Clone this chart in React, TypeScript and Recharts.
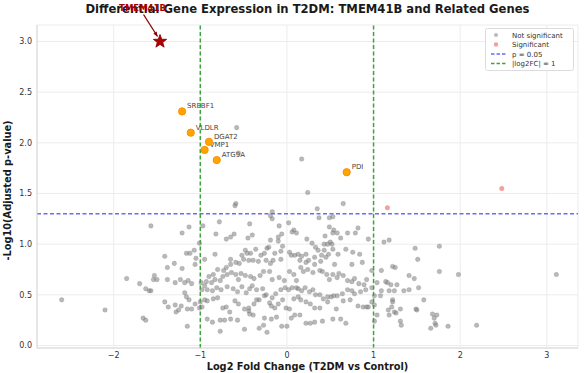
import React from 'react';
import { ScatterChart, Scatter, XAxis, YAxis, CartesianGrid, ReferenceLine } from 'recharts';

const titleText = 'Differential Gene Expression in T2DM: TMEM41B and Related Genes';
const xLabel = 'Log2 Fold Change (T2DM vs Control)';
const yLabel = '-Log10(Adjusted p-value)';

const xTicks = [-2, -1, 0, 1, 2, 3];
const yTicks = [0, 0.5, 1, 1.5, 2, 2.5, 3];
const pThreshold = 1.301;
const fcThreshold = 1;

const highlightGenes = ['SREBF1', 'VLDLR', 'DGAT2', 'VMP1', 'ATG9A', 'PDI'];
const highlightX = [-1.21, -1.11, -0.9, -0.95, -0.81, 0.69];
const highlightY = [2.31, 2.1, 2.01, 1.93, 1.83, 1.71];

const targetGene = 'TMEM41B';
const targetX = -1.465;
const targetY = 3.0;

const significantX = [1.16, 2.48];
const significantY = [1.36, 1.55];

const notSignificant: [number, number][] = [
  [-0.58, 2.15], [-0.56, 1.9], [0.17, 1.84], [0.24, 1.51],
  [-0.59, 1.4], [-0.6, 1.38], [-0.17, 1.32], [0.35, 1.35], [0.65, 1.4],
  [-0.97, 1.18], [-0.78, 1.22], [-0.43, 1.2], [-0.19, 1.28], [-0.17, 1.25], [-0.09, 1.18], [0.02, 1.21],
  [0.08, 1.14], [0.11, 1.11], [0.37, 1.26], [0.49, 1.26], [0.53, 1.27], [0.49, 1.17], [0.54, 1.14],
  [0.58, 1.11], [0.82, 1.16], [0.79, 1.11], [0.7, 1.11], [0.94, 1.05], [-0.82, 1.1], [-0.7, 1.05],
  [-0.65, 1.07], [-0.61, 1.1], [-0.45, 1.06], [-0.4, 1.09], [-0.19, 1.04], [-0.1, 1.07], [-0.1, 1.03],
  [-0.06, 1.1], [0.06, 1.12], [0.23, 1.05], [0.29, 1.01], [0.33, 0.97], [0.44, 1.08], [0.43, 1.0],
  [0.47, 1.0], [0.5, 1.02], [0.52, 1.0], [0.53, 1.11], [0.62, 1.06],
  [-0.95, 0.85], [-0.83, 0.9], [-0.65, 0.85], [-0.52, 0.89], [-0.48, 0.94], [-0.46, 0.91], [-0.42, 0.91],
  [-0.36, 0.95], [-0.3, 0.89], [-0.23, 0.96], [-0.21, 0.97], [-0.26, 0.91], [-0.14, 0.91], [-0.07, 0.93],
  [-0.05, 0.98], [0.03, 0.92], [0.09, 0.89], [0.13, 0.9], [0.17, 0.88], [0.22, 0.9], [0.25, 0.84],
  [0.32, 0.87], [0.36, 0.94], [0.4, 0.89], [0.43, 0.94], [0.48, 0.9], [0.53, 0.95], [0.59, 0.9],
  [0.68, 0.95], [0.76, 0.92], [0.84, 0.9], [0.87, 0.82], [0.75, 0.8], [0.55, 0.8], [0.45, 0.87],
  [0.39, 0.83], [0.32, 0.8], [0.22, 0.82], [0.15, 0.84], [0.05, 0.89], [-0.07, 0.85], [-0.16, 0.84],
  [-0.19, 0.81], [-0.24, 0.84], [-0.33, 0.83], [-0.39, 0.84], [-0.44, 0.84], [-0.5, 0.85], [-0.55, 0.81],
  [-0.59, 0.82], [-0.65, 0.8], [-0.7, 0.77], [-0.73, 0.74], [-0.8, 0.75], [-0.85, 0.7], [-0.9, 0.68],
  [-0.93, 0.63], [-0.99, 0.62], [-0.95, 0.59], [-0.98, 0.55], [-0.92, 0.55], [-0.87, 0.62], [-0.83, 0.65],
  [-0.77, 0.64], [-0.74, 0.68], [-0.69, 0.7], [-0.64, 0.72], [-0.59, 0.7], [-0.56, 0.65], [-0.53, 0.71],
  [-0.48, 0.69], [-0.42, 0.68], [-0.38, 0.66], [-0.31, 0.69], [-0.27, 0.73], [-0.2, 0.73], [-0.17, 0.65],
  [-0.09, 0.67], [-0.03, 0.64], [0.03, 0.73], [0.08, 0.7], [0.11, 0.64], [0.16, 0.77], [0.19, 0.73],
  [0.24, 0.75], [0.3, 0.72], [0.38, 0.74], [0.41, 0.73], [0.46, 0.7], [0.49, 0.65], [0.53, 0.7],
  [0.58, 0.67], [0.6, 0.71], [0.65, 0.69], [0.7, 0.64], [0.75, 0.63], [0.78, 0.66], [0.83, 0.61],
  [0.89, 0.6], [0.91, 0.55], [0.98, 0.74], [0.92, 0.65],
  [-0.86, 0.54], [-0.81, 0.57], [-0.76, 0.55], [-0.69, 0.58], [-0.62, 0.56], [-0.57, 0.53], [-0.52, 0.58],
  [-0.47, 0.52], [-0.43, 0.56], [-0.4, 0.59], [-0.35, 0.55], [-0.28, 0.56], [-0.24, 0.5], [-0.17, 0.47],
  [-0.13, 0.51], [-0.07, 0.55], [-0.02, 0.57], [0.02, 0.55], [0.06, 0.57], [0.11, 0.57], [0.13, 0.56],
  [0.17, 0.54], [0.21, 0.57], [0.26, 0.53], [0.3, 0.55], [0.33, 0.5], [0.38, 0.5], [0.42, 0.46],
  [0.47, 0.48], [0.51, 0.48], [0.54, 0.49], [0.58, 0.49], [0.64, 0.51], [0.7, 0.55], [0.75, 0.54],
  [0.78, 0.51], [0.85, 0.53], [0.98, 0.57], [0.98, 0.43], [0.92, 0.38], [-0.92, 0.44], [-0.95, 0.45],
  [-0.98, 0.38], [-0.85, 0.46], [-0.8, 0.47], [-0.74, 0.37], [-0.7, 0.38], [-0.66, 0.33], [-0.6, 0.44],
  [-0.56, 0.41], [-0.49, 0.36], [-0.44, 0.37], [-0.38, 0.41], [-0.35, 0.45], [-0.32, 0.45], [-0.26, 0.49],
  [-0.2, 0.42], [-0.18, 0.39], [-0.14, 0.37], [-0.1, 0.41], [-0.05, 0.45], [-0.01, 0.37], [0.03, 0.36],
  [0.08, 0.46], [0.13, 0.48], [0.16, 0.45], [0.22, 0.43], [0.27, 0.41], [0.32, 0.37], [0.38, 0.37],
  [0.47, 0.43], [0.57, 0.36], [0.65, 0.44], [0.73, 0.45], [0.82, 0.39], [0.88, 0.38], [0.94, 0.38],
  [-0.92, 0.26], [-0.86, 0.23], [-0.77, 0.25], [-0.72, 0.25], [-0.65, 0.26], [-0.77, 0.14], [-0.57, 0.25],
  [-0.49, 0.16], [-0.44, 0.34], [-0.39, 0.3], [-0.32, 0.17], [-0.27, 0.2], [-0.23, 0.13], [-0.18, 0.26],
  [-0.12, 0.28], [-0.06, 0.19], [0.0, 0.19], [0.05, 0.27], [0.09, 0.3], [0.15, 0.3], [0.22, 0.22],
  [0.27, 0.22], [0.32, 0.23], [0.41, 0.24], [0.53, 0.26], [0.62, 0.26], [0.68, 0.22], [-0.26, 0.27],
  [-0.43, 0.31],
  [-1.57, 1.18], [-1.13, 1.17], [-1.21, 1.11], [-1.01, 1.01], [-1.07, 0.94], [-1.16, 0.91], [-1.12, 0.91],
  [-1.41, 0.88], [-1.05, 0.86], [-1.3, 0.81], [-1.06, 0.8], [-1.38, 0.77], [-1.21, 0.76], [-1.85, 0.66],
  [-1.53, 0.69], [-1.54, 0.65], [-1.5, 0.65], [-1.38, 0.65], [-1.29, 0.62], [-1.23, 0.65], [-1.18, 0.62],
  [-1.14, 0.64], [-1.1, 0.61], [-1.7, 0.61], [-1.63, 0.56], [-1.59, 0.54], [-1.57, 0.54], [-1.18, 0.52],
  [-1.16, 0.48], [-1.13, 0.45], [-2.6, 0.45], [-1.0, 0.43], [-1.41, 0.43], [-1.37, 0.38], [-1.29, 0.4],
  [-1.22, 0.39], [-1.06, 0.41], [-1.01, 0.37], [-2.1, 0.35], [-1.28, 0.33], [-1.25, 0.35], [-1.15, 0.36],
  [-1.1, 0.36], [-1.66, 0.27], [-1.63, 0.25], [-1.15, 0.19],
  [1.12, 1.02], [1.18, 1.04], [1.48, 0.96], [1.76, 0.98], [1.51, 0.85], [1.09, 0.74], [1.22, 0.78],
  [1.25, 0.77], [1.76, 0.73], [1.98, 0.7], [3.11, 0.7], [1.41, 0.69], [1.47, 0.66], [1.04, 0.62],
  [1.14, 0.63], [1.16, 0.62], [1.2, 0.6], [1.27, 0.6], [1.52, 0.57], [1.09, 0.54], [1.18, 0.54],
  [1.24, 0.54], [1.35, 0.54], [1.41, 0.55], [1.01, 0.49], [1.08, 0.49], [1.22, 0.45], [1.22, 0.43],
  [1.58, 0.45], [1.01, 0.4], [1.17, 0.35], [1.21, 0.38], [1.24, 0.33], [1.26, 0.32], [1.31, 0.36],
  [1.18, 0.3], [1.49, 0.36], [1.5, 0.35], [1.04, 0.3], [1.68, 0.31], [1.73, 0.3], [1.7, 0.27],
  [1.01, 0.24], [1.31, 0.24], [1.32, 0.2], [1.71, 0.22], [1.72, 0.2], [1.66, 0.17], [1.86, 0.19],
  [2.19, 0.2],
];

const grayData = notSignificant.map(([x, y]) => ({ x, y }));
const sigData = significantX.map((x, i) => ({ x, y: significantY[i] }));
const highlightData = highlightGenes.map((gene, i) => ({ gene, x: highlightX[i], y: highlightY[i] }));
const targetData = [{ gene: targetGene, x: targetX, y: targetY }];

const FONT = '"DejaVu Sans", Verdana, sans-serif';

const GrayDot = (p: any) => (
  <circle cx={p.cx} cy={p.cy} r={2.3} fill="#808080" fillOpacity={0.55} stroke="#707070" strokeOpacity={0.4} strokeWidth={0.5} />
);
const SigDot = (p: any) => (
  <circle cx={p.cx} cy={p.cy} r={2.5} fill="#f08080" fillOpacity={0.75} />
);
const OrangeDot = (p: any) => (
  <circle cx={p.cx} cy={p.cy} r={3.6} fill="#ffa500" stroke="#ff8c00" strokeWidth={1} />
);
const GeneLabel = (p: any) => (
  <text x={p.cx + 5} y={p.cy - 3} fontSize={7} fill="#444" fontFamily={FONT}>{p.payload.gene}</text>
);
const StarShape = (p: any) => {
  const { cx, cy } = p;
  const pts: string[] = [];
  for (let i = 0; i < 10; i++) {
    const r = i % 2 === 0 ? 7 : 2.9;
    const a = -Math.PI / 2 + (i * Math.PI) / 5;
    pts.push(`${cx + r * Math.cos(a)},${cy + r * Math.sin(a)}`);
  }
  const x1 = cx - 16.5, y1 = cy - 27;
  const x2 = cx - 2.5, y2 = cy - 5;
  const ang = Math.atan2(y2 - y1, x2 - x1);
  const ah = 5;
  const hx1 = x2 - ah * Math.cos(ang - 0.4), hy1 = y2 - ah * Math.sin(ang - 0.4);
  const hx2 = x2 - ah * Math.cos(ang + 0.4), hy2 = y2 - ah * Math.sin(ang + 0.4);
  return (
    <g>
      <polygon points={pts.join(' ')} fill="#b00000" stroke="#7a0000" strokeWidth={0.8} />
      <line x1={x1} y1={y1} x2={x2} y2={y2} stroke="#8b0000" strokeWidth={1.3} />
      <polygon points={`${x2},${y2} ${hx1},${hy1} ${hx2},${hy2}`} fill="#8b0000" />
      <text x={cx - 17.5} y={cy - 30.5} textAnchor="middle" fontSize={8.5} fontWeight="bold" fill="#a80000" fontFamily={FONT}>{p.payload.gene}</text>
    </g>
  );
};

const fmtX = (v: number) => (v < 0 ? '\u2212' + Math.abs(v) : String(v));
const fmtY = (v: number) => v.toFixed(1);

export default function App() {
  return (
    <div style={{ position: 'absolute', left: 0, top: 0, width: 584, height: 373, background: '#fff', fontFamily: FONT }}>
      <div style={{ position: 'absolute', left: 0, top: 0, width: 615, textAlign: 'center', fontSize: 11.6, fontWeight: 'bold', color: '#1a1a1a', lineHeight: '13px', paddingTop: 3 }}>
        {titleText}
      </div>
      <div style={{ position: 'absolute', left: 0, top: 0 }}>
        <ScatterChart width={584} height={373} margin={{ top: 25, right: 6, bottom: 0, left: 0 }}>
          <CartesianGrid stroke="#ececec" strokeWidth={1} />
          <XAxis
            type="number"
            dataKey="x"
            domain={[-2.885, 3.36]}
            ticks={xTicks}
            tickFormatter={fmtX}
            height={25}
            tickLine={false}
            tickSize={2}
            tickMargin={2}
            axisLine={{ stroke: '#d8d8d8' }}
            tick={{ fontSize: 8, fill: '#333', fontFamily: FONT }}
            label={() => (
              <text x={307.5} y={369.5} textAnchor="middle" fontSize={9.8} fontWeight="bold" fill="#1a1a1a" fontFamily={FONT}>{xLabel}</text>
            )}
          />
          <YAxis
            type="number"
            dataKey="y"
            domain={[-0.025, 3.163]}
            ticks={yTicks}
            tickFormatter={fmtY}
            width={37}
            tickLine={false}
            tickSize={3}
            tickMargin={2}
            axisLine={{ stroke: '#d8d8d8' }}
            tick={{ fontSize: 8, fill: '#333', fontFamily: FONT }}
            label={() => (
              <text x={0} y={0} transform="translate(11,190.5) rotate(-90)" textAnchor="middle" fontSize={9.8} fontWeight="bold" fill="#1a1a1a" fontFamily={FONT}>{yLabel}</text>
            )}
          />
          <Scatter data={highlightData} shape={GeneLabel} isAnimationActive={false} />
          <Scatter data={grayData} shape={GrayDot} isAnimationActive={false} />
          <Scatter data={sigData} shape={SigDot} isAnimationActive={false} />
          <Scatter data={highlightData} shape={OrangeDot} isAnimationActive={false} />
          <ReferenceLine y={pThreshold} stroke="#6a6aff" strokeWidth={1.5} strokeDasharray="4 2.5" />
          <ReferenceLine x={-fcThreshold} stroke="#3ea53e" strokeWidth={1.5} strokeDasharray="4 2.5" />
          <ReferenceLine x={fcThreshold} stroke="#3ea53e" strokeWidth={1.5} strokeDasharray="4 2.5" />
          <Scatter data={targetData} shape={StarShape} isAnimationActive={false} />
        </ScatterChart>
      </div>
      <svg width={90} height={44} style={{ position: 'absolute', left: 485, top: 28 }}>
        <rect x={0.5} y={0.5} width={88} height={42} rx={2} fill="#fff" fillOpacity={0.85} stroke="#dcdcdc" />
        <circle cx={11} cy={7} r={2} fill="#808080" fillOpacity={0.55} />
        <text x={27} y={9.5} fontSize={7} fill="#333" fontFamily={FONT}>Not significant</text>
        <circle cx={11} cy={16.5} r={2.2} fill="#f08080" fillOpacity={0.75} />
        <text x={27} y={19} fontSize={7} fill="#333" fontFamily={FONT}>Significant</text>
        <line x1={6} y1={26} x2={22} y2={26} stroke="#6a6aff" strokeWidth={1.4} strokeDasharray="3.5 2" />
        <text x={27} y={28.8} fontSize={7} fill="#333" fontFamily={FONT}>p = 0.05</text>
        <line x1={6} y1={35.5} x2={22} y2={35.5} stroke="#3ea53e" strokeWidth={1.4} strokeDasharray="3.5 2" />
        <text x={27} y={38.2} fontSize={7} fill="#333" fontFamily={FONT}>|log2FC| = 1</text>
      </svg>
    </div>
  );
}
